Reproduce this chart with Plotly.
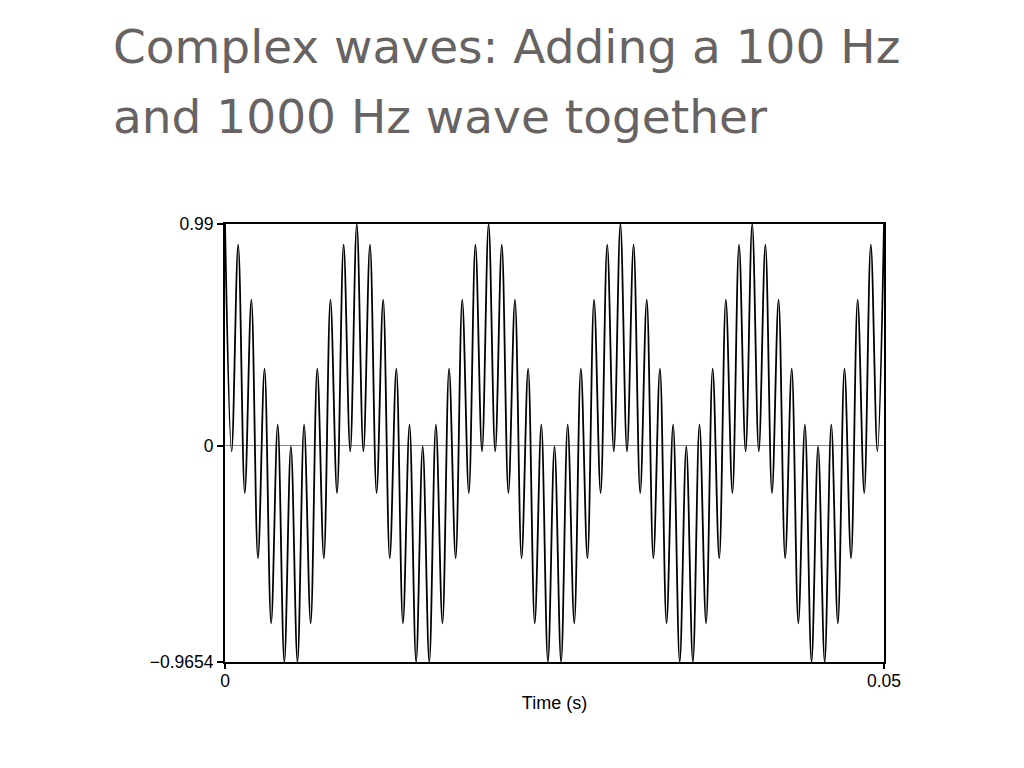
import plotly.graph_objects as go

# Sample times (ms) of each peak / trough of the waveform
time_ms = [0, 0.5, 1, 1.5, 2, 2.5, 3, 3.5, 4, 4.5, 5, 5.5, 6, 6.5, 7, 7.5, 8, 8.5, 9, 9.5,
           10, 10.5, 11, 11.5, 12, 12.5, 13, 13.5, 14, 14.5, 15, 15.5, 16, 16.5, 17, 17.5, 18, 18.5, 19, 19.5,
           20, 20.5, 21, 21.5, 22, 22.5, 23, 23.5, 24, 24.5, 25, 25.5, 26, 26.5, 27, 27.5, 28, 28.5, 29, 29.5,
           30, 30.5, 31, 31.5, 32, 32.5, 33, 33.5, 34, 34.5, 35, 35.5, 36, 36.5, 37, 37.5, 38, 38.5, 39, 39.5,
           40, 40.5, 41, 41.5, 42, 42.5, 43, 43.5, 44, 44.5, 45, 45.5, 46, 46.5, 47, 47.5, 48, 48.5, 49, 49.5,
           50]

# Amplitude at each of those peaks / troughs
amplitude = [0.99, -0.025, 0.898, -0.211, 0.652, -0.502, 0.344, -0.793, 0.094, -0.9654,
             -0.003, -0.9654, 0.094, -0.793, 0.344, -0.502, 0.652, -0.211, 0.898, -0.025,
             0.99, -0.025, 0.898, -0.211, 0.652, -0.502, 0.344, -0.793, 0.094, -0.9654,
             -0.003, -0.9654, 0.094, -0.793, 0.344, -0.502, 0.652, -0.211, 0.898, -0.025,
             0.99, -0.025, 0.898, -0.211, 0.652, -0.502, 0.344, -0.793, 0.094, -0.9654,
             -0.003, -0.9654, 0.094, -0.793, 0.344, -0.502, 0.652, -0.211, 0.898, -0.025,
             0.99, -0.025, 0.898, -0.211, 0.652, -0.502, 0.344, -0.793, 0.094, -0.9654,
             -0.003, -0.9654, 0.094, -0.793, 0.344, -0.502, 0.652, -0.211, 0.898, -0.025,
             0.99, -0.025, 0.898, -0.211, 0.652, -0.502, 0.344, -0.793, 0.094, -0.9654,
             -0.003, -0.9654, 0.094, -0.793, 0.344, -0.502, 0.652, -0.211, 0.898, -0.025,
             0.99]

x_tick_vals = [0, 0.05]
x_tick_text = ["0", "0.05"]
y_tick_vals = [-0.9654, 0, 0.99]
y_tick_text = ["\u22120.9654", "0", "0.99"]

title_lines = ["Complex waves: Adding a 100 Hz", "and 1000 Hz wave together"]

time_s = [t / 1000 for t in time_ms]

fig = go.Figure()
fig.add_trace(go.Scatter(
    x=time_s, y=amplitude, mode="lines",
    line=dict(color="black", width=1.8, shape="spline", smoothing=1.0),
    hoverinfo="skip", showlegend=False,
))

axis_font = dict(family="Liberation Sans, Arial, sans-serif", size=17.5, color="black")

fig.update_layout(
    width=1024, height=768,
    margin=dict(l=217, r=148, t=216, b=114),
    paper_bgcolor="white", plot_bgcolor="white",
    font=axis_font,
    xaxis=dict(
        range=[0, 0.05], tickvals=x_tick_vals, ticktext=x_tick_text,
        showline=True, mirror=True, linecolor="black", linewidth=2,
        ticks="outside", ticklen=5, tickwidth=2, tickcolor="black",
        ticklabelstandoff=-3,
        showgrid=False, zeroline=False,
        title=dict(text="Time (s)", font=dict(family="Liberation Sans, Arial, sans-serif", size=18, color="black"), standoff=6),
        tickfont=axis_font,
    ),
    yaxis=dict(
        range=[-0.9654, 0.99], tickvals=y_tick_vals, ticktext=y_tick_text,
        showline=True, mirror=True, linecolor="black", linewidth=2,
        ticks="outside", ticklen=6, tickwidth=2, tickcolor="black",
        showgrid=False, zeroline=True, zerolinecolor="#8a8a8a", zerolinewidth=1,
        tickfont=axis_font,
    ),
)

title_font = dict(family="DejaVu Sans, sans-serif", size=47, color="#686363")
fig.add_annotation(text=title_lines[0], xref="paper", yref="paper",
                   x=-0.173, y=1.405, xanchor="left", yanchor="middle",
                   showarrow=False, font=title_font)
fig.add_annotation(text=title_lines[1], xref="paper", yref="paper",
                   x=-0.173, y=1.245, xanchor="left", yanchor="middle",
                   showarrow=False, font=title_font)

fig.write_html("out.html")
